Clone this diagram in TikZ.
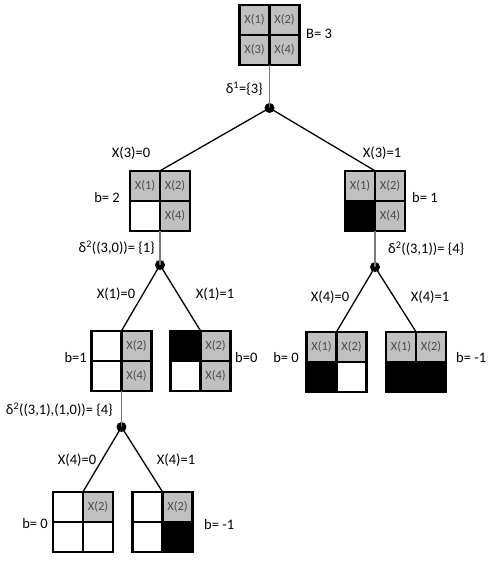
\documentclass[tikz,border=0pt]{standalone}
\usepackage{fontspec}
\setmainfont{Carlito}
\definecolor{cellgray}{HTML}{C0C0C0}
\definecolor{celltext}{HTML}{4A4A4A}
\definecolor{stemgray}{HTML}{7A7A7A}
\tikzset{
 cell/.style={minimum size=30pt, inner sep=0pt, draw=black, line width=2.1pt, font=\fontsize{12.5}{12.5}\selectfont, text=celltext},
 g/.style={cell, fill=cellgray},
 w/.style={cell, fill=white},
 k/.style={cell, fill=black},
 qbox/.style={minimum size=60pt, inner sep=0pt},
 lbl/.style={font=\fontsize{14.5}{14.5}\selectfont, inner sep=0pt},
 stem/.style={draw=stemgray, line width=1.4pt},
 branch/.style={draw=black, line width=1.3pt},
 bdot/.style={circle, fill=black, minimum size=10pt, inner sep=0pt}
}
\newcommand\qcell[5]{\node[#1] (#2-#5) at (#3,#4) {\if g#1X(#5)\fi};}
\newcommand\qb[7]{%
 \node[qbox] (#1) at (#2,#3) {};
 \qcell{#4}{#1}{#2-15}{#3-15}{1}
 \qcell{#5}{#1}{#2+15}{#3-15}{2}
 \qcell{#6}{#1}{#2-15}{#3+15}{3}
 \qcell{#7}{#1}{#2+15}{#3+15}{4}
}
\begin{document}
\begin{tikzpicture}[x=1pt,y=-1pt]
\useasboundingbox (0,0) rectangle (491,561);
% boxes
\qb{top}{269.5}{35}{g}{g}{g}{g}
\qb{la}{160}{201}{g}{g}{w}{g}
\qb{ra}{375}{201}{g}{g}{k}{g}
\qb{laa}{121.5}{361}{w}{g}{w}{g}
\qb{lab}{200.5}{361}{k}{g}{w}{g}
\qb{raa}{336.5}{362}{g}{g}{k}{w}
\qb{rab}{416}{362}{g}{g}{k}{k}
\qb{lba}{83}{522}{w}{g}{w}{w}
\qb{lbb}{162.5}{522}{w}{g}{w}{k}
% dots
\node[bdot] (d1) at (269.5,108) {};
\node[bdot] (d2) at (160,265) {};
\node[bdot] (d3) at (375,267) {};
\node[bdot] (d4) at (121.5,427) {};
% stems
\draw[stem] (top.south) -- (d1.center);
\draw[stem] (la.south) -- (d2.center);
\draw[stem] (ra.south) -- (d3.center);
\draw[stem] (laa.south) -- (d4.center);
% branches
\draw[branch] (d1.center) -- (la.north);
\draw[branch] (d1.center) -- (ra.north);
\draw[branch] (d2.center) -- (laa.north);
\draw[branch] (d2.center) -- (lab.north);
\draw[branch] (d3.center) -- (raa.north);
\draw[branch] (d3.center) -- (rab.north);
\draw[branch] (d4.center) -- (lba.north);
\draw[branch] (d4.center) -- (lbb.north);
% labels
\node[lbl, anchor=west] (tB) at (306,34) {B= 3};
\node[lbl, anchor=east] (tdelta1) at (263,89) {δ\textsuperscript{1}=\{3\}};
\node[lbl] (tx30) at (131,153) {X(3)=0};
\node[lbl] (tx31) at (382,153) {X(3)=1};
\node[lbl, anchor=east] (tb2) at (120,198) {b= 2};
\node[lbl, anchor=west] (tb1r) at (412,198) {b= 1};
\node[lbl, anchor=east] (tdelta2a) at (155,248) {δ\textsuperscript{2}((3,0))= \{1\}};
\node[lbl, anchor=west] (tdelta2b) at (388,249) {δ\textsuperscript{2}((3,1))= \{4\}};
\node[lbl] (tx10) at (116,294) {X(1)=0};
\node[lbl] (tx11) at (215,294) {X(1)=1};
\node[lbl] (tx40r) at (330,297) {X(4)=0};
\node[lbl] (tx41r) at (430,297) {X(4)=1};
\node[lbl, anchor=east] (tb1l) at (87,358) {b=1};
\node[lbl, anchor=west] (tb0l) at (235,358) {b=0};
\node[lbl, anchor=east] (tb0r) at (299,358) {b= 0};
\node[lbl, anchor=west] (tbm1r) at (456,358) {b= -1};
\node[lbl, anchor=east] (tdelta3) at (113,410) {δ\textsuperscript{2}((3,1),(1,0))= \{4\}};
\node[lbl] (tx40l) at (77,460) {X(4)=0};
\node[lbl] (tx41l) at (176,460) {X(4)=1};
\node[lbl, anchor=east] (tb0b) at (48,524) {b= 0};
\node[lbl, anchor=west] (tbm1b) at (204,525) {b= -1};
\end{tikzpicture}
\end{document}
